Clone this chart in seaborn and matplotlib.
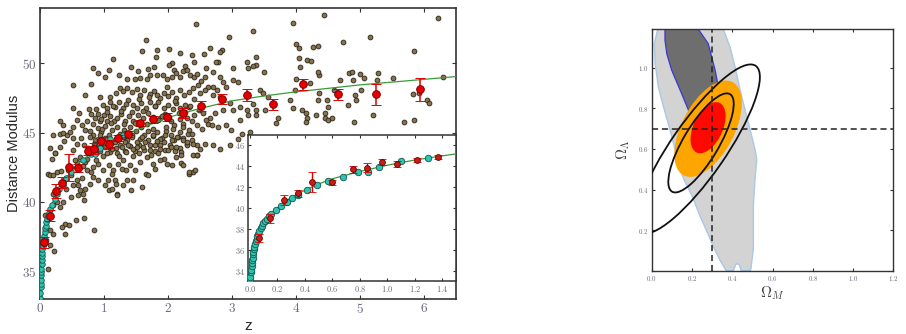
import matplotlib
matplotlib.use("Agg")
import matplotlib.pyplot as plt
import seaborn as sns
import pandas as pd
from matplotlib.patches import Ellipse, Polygon

# ---------------- data: Hubble diagram ----------------
# brown scatter (GRB-calibrated points)
grb_z = [
    2.95, 3.33, 3.38, 3.37, 3.33, 3.50, 3.43, 3.49, 3.56, 3.51, 3.38, 3.37, 3.25, 3.33, 3.72, 3.69, 3.90, 3.96,
    4.00, 4.04, 4.05, 4.06, 4.17, 4.24, 4.27, 4.35, 4.43, 4.00, 3.98, 3.96, 4.09, 4.15, 4.17, 4.15, 4.32, 4.35,
    4.36, 4.36, 4.22, 4.35, 4.48, 4.50, 4.45, 4.45, 4.50, 4.57, 4.59, 4.69, 4.73, 4.81, 4.89, 4.90, 4.83, 4.87,
    4.92, 4.94, 5.00, 5.02, 5.06, 5.15, 5.20, 5.28, 5.27, 5.52, 5.68, 5.85, 5.85, 5.83, 6.05, 6.08, 6.22, 6.29, 5.92,
    2.84, 2.81, 2.78, 2.75, 2.65, 2.56, 2.60, 2.71, 2.81, 2.86, 3.02, 3.25, 3.23, 3.02, 3.10, 2.91, 2.76, 2.71,
    2.63, 2.58, 2.50, 2.71, 2.81, 2.97, 3.12, 3.02, 2.86, 2.73, 2.65, 2.63, 2.68, 2.78, 2.91, 2.99, 3.15, 3.28,
    3.10, 2.97, 2.81, 2.71, 3.12, 3.23, 2.50, 2.45, 2.39, 2.32, 2.21, 2.58, 2.55, 2.60, 2.53, 2.57, 2.52,
    2.44, 1.65, 1.60, 1.82, 2.01, 2.19, 1.81, 2.37, 2.40, 1.14, 2.06, 2.27, 0.83, 1.07, 1.42, 1.53, 1.68, 1.78,
    2.02, 2.10, 0.51, 0.80, 0.91, 1.02, 1.23, 1.36, 1.48, 1.56, 1.67, 1.72, 1.83, 1.92, 1.98, 2.06, 2.13, 2.19,
    2.24, 2.29, 2.35, 2.40, 2.45,
    0.94, 1.09, 1.18, 1.25, 1.30, 1.36, 1.43, 1.51, 1.56, 1.62, 1.72, 1.78, 1.83, 1.87, 1.94, 2.00, 2.06, 2.12,
    2.19, 2.25, 2.32, 2.39, 2.47, 0.70, 0.52, 0.91, 0.99, 1.04, 1.10, 1.17, 1.24, 1.30, 1.38, 1.45, 1.51, 1.58,
    1.65, 1.72, 1.79, 1.85, 1.93, 2.00, 2.07, 2.13, 2.19, 2.26, 2.33, 2.40, 2.48,
    0.31, 0.36, 0.42, 0.47, 0.52, 0.57, 0.65, 0.73, 0.79, 0.86, 0.93, 1.00, 1.04, 1.10, 1.16, 1.21, 1.27, 1.33,
    1.39, 1.46, 1.53, 1.61, 1.69, 1.76, 1.87, 1.96, 2.04, 2.10, 2.18, 2.24, 2.30, 2.37, 2.45,
    0.78, 0.83, 0.90, 0.96, 1.02, 1.07, 1.13, 1.19, 1.25, 1.31, 1.36, 1.44, 1.50, 1.56, 1.62, 1.69, 1.77, 1.83,
    1.90, 1.97, 2.04, 2.10, 2.18, 2.24, 2.31, 2.38, 2.46, 0.68, 0.75, 0.86, 0.94, 1.01, 1.09, 1.18, 1.25, 1.33,
    1.41, 1.48, 1.55, 1.62, 1.72, 1.80, 1.87, 1.96, 2.03, 2.11, 2.19, 2.29, 2.39, 0.24, 0.31, 0.37, 0.21, 0.16,
    0.31, 0.36, 0.23, 0.18, 0.13, 0.15, 0.21, 0.26, 0.32, 0.37, 0.44, 0.49, 0.52, 0.57, 0.63, 0.67, 0.69, 0.56,
    0.39, 0.39, 0.34, 0.46, 0.68, 0.84, 0.31, 0.36, 0.27, 0.21, 0.16, 0.11, 0.15, 0.10, 0.16, 0.22, 0.13, 0.20,
    0.08, 0.06, 0.08, 0.21, 0.26, 0.41, 0.49, 0.60, 0.70, 0.78, 0.83, 0.91, 1.01, 1.07, 1.12, 1.20, 1.21, 1.17,
    1.30, 1.36, 1.59, 1.65, 1.69, 1.80, 1.98, 2.06, 2.13, 2.24, 2.33, 2.42, 2.45, 2.21, 2.13,
    0.83, 0.91, 0.99, 1.07, 1.14, 1.22, 1.30, 1.41, 1.48, 1.56, 1.67, 1.77, 1.85, 1.93, 2.00, 0.62, 0.70, 0.73,
    0.52, 0.57, 0.75, 0.88, 0.96, 1.04, 1.12, 1.20, 1.28, 1.35, 1.46, 1.54, 1.61, 1.72, 1.80, 1.88, 2.29, 2.39,
    0.78, 0.86, 0.94, 1.04, 1.14, 1.25, 1.33, 1.43, 1.51, 1.59, 1.69, 1.77, 1.87, 1.95, 2.06, 2.16, 2.24,
    0.82, 0.85, 0.88, 0.92, 0.95, 0.98, 0.87, 0.97, 1.02, 1.05, 1.08, 1.11, 1.14, 1.17, 1.20, 1.23, 1.26, 1.29,
    1.12, 1.18, 1.28, 1.06, 1.31, 1.34, 1.37, 1.40, 1.43, 1.46, 1.49, 1.52, 1.55, 1.58, 1.35, 1.45, 1.42,
    1.61, 1.64, 1.67, 1.70, 1.73, 1.76, 1.79, 1.82, 1.85, 1.88, 1.91, 1.94, 1.97, 1.99,
    2.02, 2.05, 2.08, 2.11, 2.14, 2.17, 2.20, 2.23, 2.26, 2.29, 2.32, 2.35, 2.38, 2.41,
    0.52, 0.55, 0.58, 0.61, 0.64, 0.67, 0.70, 0.73, 0.76, 0.79, 0.60, 0.66,
]
grb_mu = [
    51.93, 52.36, 50.48, 49.88, 49.80, 49.40, 48.07, 47.83, 47.60, 46.63, 46.27, 46.63, 46.27, 47.10, 46.03, 45.67, 47.35, 52.90,
    51.37, 51.13, 50.36, 49.76, 50.24, 50.17, 51.20, 51.28, 53.49, 48.84, 48.07, 46.75, 46.63, 46.39, 46.03, 45.79, 46.27, 47.35,
    47.83, 49.16, 48.56, 49.35, 47.35, 46.87, 46.39, 46.03, 45.91, 46.03, 48.07, 48.80, 51.57, 46.99, 48.80, 45.79, 49.33, 49.40,
    47.71, 47.35, 49.23, 48.07, 48.92, 51.88, 46.27, 49.33, 48.80, 48.92, 45.79, 50.91, 45.91, 47.76, 47.35, 47.16, 53.25, 48.99, 47.83,
    50.96, 50.84, 50.12, 50.12, 51.08, 50.67, 49.64, 49.40, 49.04, 48.68, 49.64, 49.64, 50.12, 48.80, 48.68, 48.31, 48.07, 48.31,
    48.27, 48.07, 47.83, 47.71, 47.59, 47.11, 46.87, 46.63, 46.63, 46.39, 46.03, 45.62, 45.55, 45.43, 45.55, 45.18, 44.94, 45.06,
    44.58, 44.10, 43.86, 44.10, 45.91, 46.63, 43.86, 43.38, 42.17, 42.05, 42.78, 44.22, 46.40, 45.90, 45.30, 49.00, 48.70,
    52.84, 51.68, 50.91, 50.96, 51.06, 50.77, 50.48, 50.58, 50.09, 50.31, 50.00, 49.80, 49.66, 49.52, 49.76, 49.42, 49.61, 49.76,
    49.85, 49.52, 48.46, 48.51, 49.28, 48.99, 49.13, 48.84, 48.84, 48.94, 48.89, 49.13, 49.13, 49.18, 48.84, 48.99, 49.28, 49.04,
    49.42, 49.52, 49.18, 48.99, 49.23,
    47.59, 47.59, 47.83, 48.26, 48.02, 48.26, 47.93, 48.12, 47.69, 48.07, 47.78, 47.98, 47.69, 47.50, 47.83, 47.64, 47.93, 47.54,
    48.07, 47.69, 47.93, 48.21, 48.45, 47.69, 46.77, 46.34, 47.01, 46.77, 47.20, 46.87, 47.20, 46.77, 47.35, 47.01, 46.77, 47.11,
    46.77, 47.25, 46.92, 47.20, 46.77, 47.01, 46.68, 47.11, 46.77, 46.53, 46.87, 46.29, 46.65,
    45.86, 45.57, 44.85, 45.04, 44.61, 45.91, 45.57, 45.81, 46.34, 46.05, 45.81, 46.29, 45.81, 46.17, 45.81, 46.05, 46.34, 45.81,
    46.17, 45.86, 46.29, 46.05, 46.39, 46.10, 46.05, 46.34, 45.86, 45.57, 45.96, 45.62, 46.05, 45.81, 45.52,
    45.09, 44.85, 45.33, 45.04, 44.61, 44.85, 45.21, 44.56, 44.90, 45.21, 44.49, 44.85, 45.09, 44.56, 44.85, 45.14, 44.75, 45.04,
    44.61, 45.09, 44.85, 44.49, 45.04, 44.61, 44.90, 44.49, 44.13, 44.13, 43.89, 44.13, 43.65, 43.94, 43.60, 43.89, 44.13, 43.70,
    44.01, 43.65, 44.08, 43.77, 44.08, 43.70, 44.13, 43.77, 44.08, 43.65, 43.89, 44.18, 43.40, 43.53, 43.94, 44.37, 44.85, 43.89,
    44.89, 44.99, 43.50, 43.13, 42.05, 41.93, 41.93, 42.17, 42.24, 41.57, 42.29, 41.93, 41.21, 41.57, 40.85, 40.61, 40.13, 38.68,
    37.72, 38.39, 38.20, 38.32, 38.87, 37.96, 39.64, 40.01, 40.01, 39.77, 39.40, 38.68, 37.96, 37.24, 36.88, 36.47, 35.19, 37.72,
    37.96, 37.00, 39.04, 40.61, 40.85, 40.97, 40.37, 40.49, 40.97, 41.33, 41.81, 41.57, 41.21, 40.85, 40.97, 40.61, 40.49, 41.57,
    41.21, 41.57, 41.09, 42.05, 41.93, 42.41, 42.77, 42.65, 43.25, 42.65, 42.17, 42.29, 43.38, 43.62, 43.98,
    42.53, 42.77, 42.29, 42.65, 42.29, 42.77, 43.01, 42.65, 42.29, 42.89, 43.25, 42.77, 43.50, 43.13, 43.74, 43.25, 42.89, 42.29,
    43.74, 42.89, 43.62, 43.50, 43.98, 43.50, 43.86, 43.50, 43.98, 43.62, 43.86, 43.50, 43.98, 43.74, 44.10, 43.86, 44.10, 44.22,
    44.70, 44.46, 44.82, 44.58, 44.34, 44.70, 44.34, 44.70, 44.34, 44.70, 44.46, 44.82, 44.51, 44.82, 44.46, 44.70, 44.46,
    45.60, 44.20, 46.70, 44.50, 46.00, 43.30, 43.00, 45.30, 45.50, 46.50, 44.00, 45.70, 46.90, 44.30, 45.40, 43.30, 46.60, 44.70,
    42.00, 41.30, 42.40, 41.60, 45.60, 47.10, 44.10, 45.40, 46.50, 43.30, 45.70, 44.00, 47.40, 45.40, 42.30, 41.60, 40.90,
    46.60, 44.30, 45.60, 47.60, 43.40, 45.30, 46.90, 44.40, 45.90, 43.00, 46.20, 44.30, 45.40, 48.30,
    46.10, 44.00, 45.30, 47.30, 44.70, 46.40, 43.40, 45.40, 47.00, 44.30, 45.20, 46.90, 44.90, 47.40,
    45.40, 43.00, 44.20, 46.40, 44.60, 42.60, 45.20, 43.10, 46.70, 42.20, 41.20, 41.70,
]

# cyan points (SN sample)
sn_z = [0.002, 0.005, 0.009, 0.011, 0.014, 0.017, 0.019, 0.021, 0.024, 0.027, 0.031, 0.034, 0.038, 0.044,
        0.050, 0.056, 0.062, 0.070, 0.080, 0.090, 0.099, 0.110, 0.123, 0.140, 0.155, 0.190, 0.227, 0.268,
        0.304, 0.352, 0.413, 0.490, 0.570, 0.679, 0.790, 0.860, 0.938, 1.100, 1.300]
sn_mu = [33.04, 33.40, 33.84, 34.10, 34.39, 34.70, 34.97, 35.20, 35.55, 35.80, 36.10, 36.30, 36.58, 36.80,
         37.06, 37.30, 37.54, 37.80, 38.09, 38.30, 38.57, 38.80, 38.99, 39.20, 39.47, 39.79, 40.18, 40.60,
         40.92, 41.24, 41.72, 42.20, 42.55, 43.00, 43.45, 43.49, 43.91, 44.52, 44.81]

# binned points with errors (red)
bin_z = [0.068, 0.15, 0.25, 0.35, 0.45, 0.60, 0.75, 0.85, 0.96, 1.07, 1.22, 1.37,
         1.56, 1.76, 1.98, 2.23, 2.52, 2.85, 3.23, 3.64, 4.11, 4.65, 5.25, 5.93]
bin_mu = [37.10, 39.00, 40.80, 41.40, 42.50, 42.45, 43.70, 43.85, 44.40, 44.20, 44.60, 44.88,
          45.70, 45.98, 46.15, 46.41, 46.94, 47.45, 47.71, 47.04, 48.48, 47.76, 47.76, 48.12]
bin_err = [0.40, 0.40, 0.48, 0.37, 0.95, 0.26, 0.33, 0.42, 0.30, 0.30, 0.22, 0.22,
           0.20, 0.25, 0.30, 0.35, 0.35, 0.35, 0.45, 0.41, 0.38, 0.42, 0.76, 0.82]

# model curve (green)
model_z = [0.003, 0.01, 0.02, 0.03, 0.05, 0.07, 0.10, 0.15, 0.20, 0.30, 0.40, 0.50, 0.60, 0.80,
           1.00, 1.20, 1.40, 1.70, 2.00, 2.50, 3.00, 3.50, 4.00, 4.50, 5.00, 5.50, 6.00, 6.50]
model_mu = [31.7, 33.2, 34.7, 35.6, 36.8, 37.6, 38.4, 39.3, 40.0, 41.0, 41.7, 42.3, 42.8, 43.5,
            44.1, 44.6, 45.0, 45.55, 46.1, 46.75, 47.3, 47.65, 47.95, 48.2, 48.45, 48.65, 48.85, 49.05]

main_xticks = [0, 1, 2, 3, 4, 5, 6]
main_yticks = [35, 40, 45, 50]
inset_xticks = [0.0, 0.2, 0.4, 0.6, 0.8, 1.0, 1.2, 1.4]
inset_yticks = [34, 36, 38, 40, 42, 44, 46]

# ---------------- data: Omega_M - Omega_Lambda plane ----------------
wide_om = [0.030, 0.356, 0.389, 0.414, 0.439, 0.472, 0.497, 0.513, 0.522, 0.513, 0.505, 0.505, 0.505, 0.493,
           0.490, 0.445, 0.435, 0.420, 0.405, 0.370, 0.340, 0.310, 0.280, 0.240, 0.200, 0.160, 0.130, 0.116,
           0.091, 0.058, 0.033, 0.017, 0.013]
wide_ol = [1.190, 1.190, 1.103, 1.005, 0.891, 0.760, 0.663, 0.598, 0.549, 0.451, 0.320, 0.222, 0.109, 0.011,
           0.000, 0.000, 0.030, 0.035, 0.000, 0.000, 0.050, 0.110, 0.180, 0.270, 0.370, 0.450, 0.530, 0.598,
           0.695, 0.810, 0.907, 1.021, 1.119]
dark_om = [0.066, 0.232, 0.281, 0.298, 0.315, 0.328, 0.335, 0.340, 0.335, 0.323, 0.298, 0.273, 0.248,
           0.224, 0.182, 0.141, 0.099, 0.075, 0.066]
dark_ol = [1.190, 1.190, 1.119, 1.053, 0.989, 0.923, 0.858, 0.777, 0.712, 0.679, 0.668, 0.671, 0.685,
           0.720, 0.793, 0.891, 0.989, 1.070, 1.136]
# filled ellipses: centre x, centre y, full width, full height, angle
orange_ell = [0.280, 0.700, 0.52, 0.26, 62]
red_ell = [0.280, 0.705, 0.27, 0.145, 65]
# open black ellipses
inner_ell = [0.245, 0.630, 0.56, 0.175, 59]
outer_ell = [0.230, 0.600, 1.00, 0.27, 55]
fid_om, fid_ol = 0.3, 0.7
right_xticks = [0.0, 0.2, 0.4, 0.6, 0.8, 1.0, 1.2]
right_yticks = [0.2, 0.4, 0.6, 0.8, 1.0]

# ---------------- styling ----------------
sns.set_style("ticks")
plt.rcParams["font.family"] = ["Liberation Sans", "DejaVu Sans"]
plt.rcParams["mathtext.fontset"] = "cm"

TICKC = "#6a6a7a"
SPINEC = "#333333"

fig = plt.figure(figsize=(9.06, 3.34), dpi=100)
ax = fig.add_axes([0.0442, 0.1048, 0.4591, 0.8713])
axi = fig.add_axes([0.2741, 0.1587, 0.2292, 0.4371])
axr = fig.add_axes([0.7193, 0.1895, 0.2667, 0.7228])


def style_axis(a, xt, yt, xfmt, yfmt, size, lw=1.0, tl=3):
    a.set_xticks(xt)
    a.set_xticklabels([("$" + xfmt + "$").format(v) for v in xt])
    a.set_yticks(yt)
    a.set_yticklabels([("$" + yfmt + "$").format(v) for v in yt])
    a.tick_params(direction="in", top=True, right=True, length=tl, width=0.8,
                  labelsize=size, labelcolor=TICKC, color=SPINEC, pad=2.5)
    for s in a.spines.values():
        s.set_color(SPINEC)
        s.set_linewidth(lw)


grb = pd.DataFrame({"z": grb_z, "mu": grb_mu})
sn = pd.DataFrame({"z": sn_z, "mu": sn_mu})
model = pd.DataFrame({"z": model_z, "mu": model_mu})

# main panel
sns.scatterplot(data=grb, x="z", y="mu", ax=ax, s=12, color="#847250",
                edgecolor="#2c2315", linewidth=0.6, zorder=2, legend=False)
sns.lineplot(data=model, x="z", y="mu", ax=ax, color="#3a9a3a", linewidth=0.9,
             zorder=3, sort=False, estimator=None)
sns.scatterplot(data=sn, x="z", y="mu", ax=ax, s=16, color="#2ec4b0",
                edgecolor="#14564e", linewidth=0.6, zorder=4, legend=False)
ax.errorbar(bin_z, bin_mu, yerr=bin_err, fmt="o", ms=5.5, mfc="#e60000", mec="#7a0000",
            mew=0.7, ecolor="#e00000", elinewidth=1.1, capsize=3.5, capthick=1.1, zorder=5)
ax.set_xlim(0, 6.5)
ax.set_ylim(33, 54)
style_axis(ax, main_xticks, main_yticks, "{:d}", "{:d}", 9.5, lw=1.2)
ax.set_xlabel("z", fontsize=11, labelpad=2)
ax.set_ylabel("Distance Modulus", fontsize=10.5, labelpad=1)

# inset
axi.set_facecolor("white")
sns.lineplot(data=model, x="z", y="mu", ax=axi, color="#3a9a3a", linewidth=0.9,
             zorder=3, sort=False, estimator=None)
sns.scatterplot(data=sn, x="z", y="mu", ax=axi, s=22, color="#2ec4b0",
                edgecolor="#14564e", linewidth=0.6, zorder=4, legend=False)
axi.errorbar(bin_z, bin_mu, yerr=bin_err, fmt="o", ms=4.2, mfc="#c41e16", mec="#6b0000",
             mew=0.6, ecolor="#e00000", elinewidth=1.0, capsize=3, capthick=1.0, zorder=5)
axi.set_xlim(-0.01, 1.5)
axi.set_ylim(33, 47)
style_axis(axi, inset_xticks, inset_yticks, "{:.1f}", "{:d}", 6, lw=1.1, tl=2.5)
axi.set_xlabel("")
axi.set_ylabel("")

# right panel
axr.add_patch(Polygon(list(zip(wide_om, wide_ol)), closed=True, facecolor="#d3d3d3",
                      edgecolor="#a9c8e6", linewidth=1.0, zorder=1))
axr.add_patch(Polygon(list(zip(dark_om, dark_ol)), closed=True, facecolor="#6e6e6e",
                      edgecolor="#3a3ad0", linewidth=0.9, zorder=2))
for prm, col, zo in [(orange_ell, "#ffa500", 3), (red_ell, "#ff0000", 4)]:
    axr.add_patch(Ellipse((prm[0], prm[1]), prm[2], prm[3], angle=prm[4],
                          facecolor=col, edgecolor="none", alpha=0.95 if zo == 4 else 1.0, zorder=zo))
for prm in [inner_ell, outer_ell]:
    axr.add_patch(Ellipse((prm[0], prm[1]), prm[2], prm[3], angle=prm[4],
                          facecolor="none", edgecolor="#111111", linewidth=1.3, zorder=5))
axr.axvline(fid_om, color="#222222", linestyle=(0, (4, 2.5)), linewidth=1.1, zorder=6)
axr.axhline(fid_ol, color="#222222", linestyle=(0, (4, 2.5)), linewidth=1.1, zorder=6)
axr.set_xlim(0, 1.2)
axr.set_ylim(0, 1.19)
style_axis(axr, right_xticks, right_yticks, "{:.1f}", "{:.1f}", 5, lw=1.0, tl=2.5)
axr.set_xlabel(r"$\Omega_M$", fontsize=11, color="#444444", labelpad=1)
axr.set_ylabel(r"$\Omega_\Lambda$", fontsize=11, color="#444444", labelpad=4)

fig.savefig("out.png", dpi=100)
